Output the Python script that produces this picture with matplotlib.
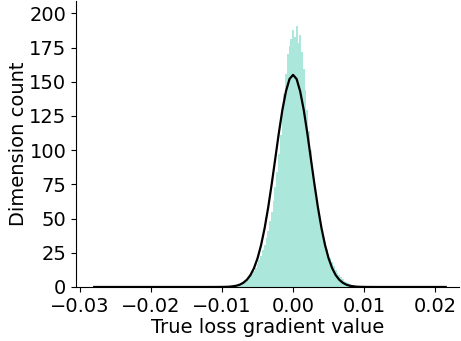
"""Histogram of true loss gradient values with a fitted normal curve."""

import matplotlib

matplotlib.use("Agg")
import matplotlib.pyplot as plt
import numpy as np

# histogram bins (width 0.00025), counts
BIN_WIDTH = 0.00025
bin_start = -0.00925
bin_counts = [
    0.1, 0.15, 0.25, 0.4, 0.6, 0.9, 1.3, 1.8, 2.5, 3.2,
    4.2, 5.2, 6.5, 8.0, 9.5, 11.5, 14, 17, 20, 23,
    27, 31, 36, 41, 48, 55, 63, 73, 84, 97,
    111, 126, 141, 156, 170, 176, 181, 188, 183, 191,
    178, 184, 172, 159, 144, 129, 114, 100, 87, 75,
    65, 57, 50, 43, 38, 33, 28, 24, 21, 18,
    15, 12.5, 10, 8.5, 7, 5.6, 4.5, 3.5, 2.7, 2.0,
    1.5, 1.0, 0.7, 0.45, 0.3, 0.2, 0.1,
]

# fitted normal curve, sampled points
curve_x = [
    -0.028, -0.0115, -0.0105, -0.0095, -0.009, -0.0085, -0.008, -0.0075,
    -0.007, -0.0065, -0.006, -0.0055, -0.005, -0.0045, -0.004, -0.0035,
    -0.003, -0.0025, -0.002, -0.0015, -0.001, -0.0005, 0.0, 0.0005,
    0.001, 0.0015, 0.002, 0.0025, 0.003, 0.0035, 0.004, 0.0045,
    0.005, 0.0055, 0.006, 0.0065, 0.007, 0.0075, 0.008, 0.0085,
    0.009, 0.0095, 0.0105, 0.0115, 0.0215,
]
curve_y = [
    0.0, 0.0, 0.02, 0.1, 0.2, 0.5, 0.9, 1.7,
    3.1, 5.3, 8.7, 13.8, 21.0, 30.7, 43.1, 58.2,
    75.5, 94.0, 112.6, 129.5, 143.0, 152.0, 155.0, 152.0,
    143.0, 129.5, 112.6, 94.0, 75.5, 58.2, 43.1, 30.7,
    21.0, 13.8, 8.7, 5.3, 3.1, 1.7, 0.9, 0.5,
    0.2, 0.1, 0.02, 0.0, 0.0,
]

x_ticks = [-0.03, -0.02, -0.01, 0.00, 0.01, 0.02]
y_ticks = [0, 25, 50, 75, 100, 125, 150, 175, 200]


def main() -> None:
    centers = bin_start + BIN_WIDTH * np.arange(len(bin_counts))

    fig = plt.figure(figsize=(4.61, 3.41), dpi=100)
    ax = fig.add_axes([0.1649, 0.1584, 0.831, 0.8387])
    ax.bar(centers, bin_counts, width=BIN_WIDTH, color="#abe7da", linewidth=0)
    ax.plot(curve_x, curve_y, color="black", linewidth=1.6)

    ax.set_xlim(-0.03056, 0.02338)
    ax.set_ylim(0, 209)
    ax.set_xticks(x_ticks)
    ax.set_yticks(y_ticks)
    ax.tick_params(labelsize=14)
    ax.set_xlabel("True loss gradient value", fontsize=14, labelpad=2)
    ax.set_ylabel("Dimension count", fontsize=14, labelpad=1)
    ax.spines["top"].set_visible(False)
    ax.spines["right"].set_visible(False)

    fig.savefig("out.png", dpi=100)
    plt.close(fig)


if __name__ == "__main__":
    main()
